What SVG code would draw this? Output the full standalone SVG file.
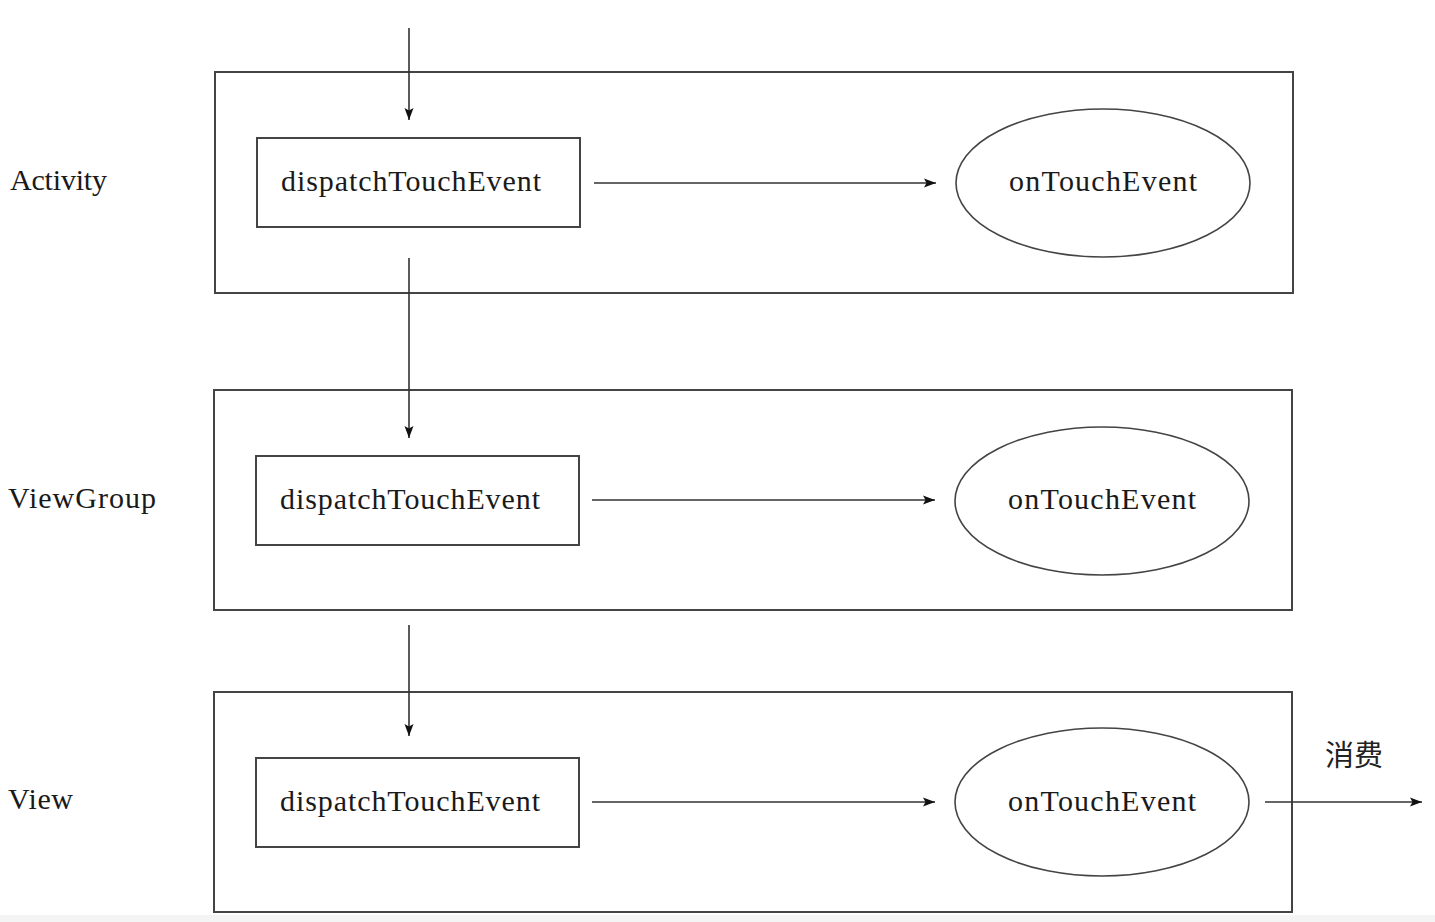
<svg xmlns="http://www.w3.org/2000/svg" width="1435" height="922" viewBox="0 0 1435 922">
<style>
.c{fill:none;stroke:#444;stroke-width:2}
.b{fill:#fff;stroke:#444;stroke-width:2}
.e{fill:#fff;stroke:#444;stroke-width:1.6}
.l{stroke:#333;stroke-width:1.6;fill:none}
.t{font-family:"Liberation Serif",serif;font-size:30px;fill:#1a1a1a}
.z{font-family:"Noto Sans CJK SC",sans-serif;font-size:29px;fill:#222}
</style>
<defs>
<marker id="ah" viewBox="0 0 12 10" refX="12" refY="5" markerWidth="12" markerHeight="10" markerUnits="userSpaceOnUse" orient="auto">
<path d="M0,0.5 L12,5 L0,9.5 L2.5,5 Z" fill="#111"/>
</marker>
</defs>
<rect x="0" y="0" width="1435" height="922" fill="#fff"/>
<rect x="0" y="915" width="1435" height="7" fill="#f4f4f4"/>
<g id="activity">
<rect class="c" x="215" y="72" width="1078" height="221"/>
<text class="t" x="10" y="190" textLength="97">Activity</text>
</g>
<g id="activity-dispatch">
<rect class="b" x="257" y="138" width="323" height="89"/>
<text class="t" x="281" y="191" textLength="260">dispatchTouchEvent</text>
</g>
<g id="activity-ontouch">
<ellipse class="e" cx="1103" cy="183" rx="147" ry="74"/>
<text class="t" x="1009" y="191" textLength="188">onTouchEvent</text>
</g>
<g id="viewgroup">
<rect class="c" x="214" y="390" width="1078" height="220"/>
<text class="t" x="8" y="508" textLength="148">ViewGroup</text>
</g>
<g id="viewgroup-dispatch">
<rect class="b" x="256" y="456" width="323" height="89"/>
<text class="t" x="280" y="509" textLength="260">dispatchTouchEvent</text>
</g>
<g id="viewgroup-ontouch">
<ellipse class="e" cx="1102" cy="501" rx="147" ry="74"/>
<text class="t" x="1008" y="509" textLength="188">onTouchEvent</text>
</g>
<g id="view">
<rect class="c" x="214" y="692" width="1078" height="220"/>
<text class="t" x="8" y="809" textLength="65">View</text>
</g>
<g id="view-dispatch">
<rect class="b" x="256" y="758" width="323" height="89"/>
<text class="t" x="280" y="811" textLength="260">dispatchTouchEvent</text>
</g>
<g id="view-ontouch">
<ellipse class="e" cx="1102" cy="802" rx="147" ry="74"/>
<text class="t" x="1008" y="811" textLength="188">onTouchEvent</text>
</g>
<g id="consume-label">
<text class="z" x="1325" y="766">消费</text>
</g>
<g id="connectors">
<line class="l" x1="409" y1="28" x2="409" y2="120" marker-end="url(#ah)"/>
<line class="l" x1="594" y1="183" x2="936" y2="183" marker-end="url(#ah)"/>
<line class="l" x1="409" y1="258" x2="409" y2="438" marker-end="url(#ah)"/>
<line class="l" x1="592" y1="500" x2="935" y2="500" marker-end="url(#ah)"/>
<line class="l" x1="409" y1="625" x2="409" y2="736" marker-end="url(#ah)"/>
<line class="l" x1="592" y1="802" x2="935" y2="802" marker-end="url(#ah)"/>
<line class="l" x1="1265" y1="802" x2="1422" y2="802" marker-end="url(#ah)"/>
</g>
</svg>
